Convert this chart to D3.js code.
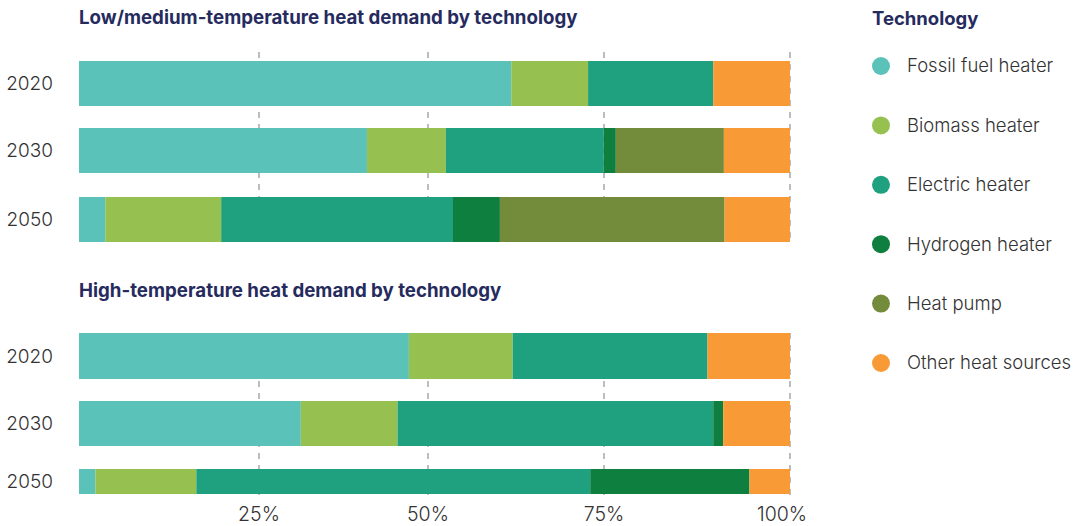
<!DOCTYPE html>
<html>
<head>
<meta charset="utf-8">
<script src="https://cdn.jsdelivr.net/npm/d3@7"></script>
<style>
  body { margin: 0; background: #fff; }
  svg { display: block; font-family: Inter, "Noto Sans", sans-serif; }
</style>
</head>
<body>
<div id="chart"></div>
<script>
// Data
const technologies = ["Fossil fuel heater", "Biomass heater", "Electric heater", "Hydrogen heater", "Heat pump", "Other heat sources"];
const colors = ["#5BC2BA", "#96C050", "#1FA07E", "#0F7F3F", "#738C3C", "#F89B37"];
const years = ["2020", "2030", "2050"];
const ticks = [25, 50, 75, 100];

// shares (%) in technology order, one array per year
const lowMedium = [
  [60.8, 10.8, 17.6, 0, 0, 10.8],
  [40.5, 11.1, 22.2, 1.7, 15.2, 9.3],
  [3.7, 16.3, 32.6, 6.6, 31.6, 9.2]
];
const highTemp = [
  [46.4, 14.6, 27.4, 0, 0, 11.6],
  [31.2, 13.6, 44.4, 1.4, 0, 9.4],
  [2.3, 14.2, 55.4, 22.4, 0, 5.7]
];

const W = 1075, H = 526;
const svg = d3.select("#chart").append("svg")
  .attr("width", W).attr("height", H);

// bars use a linear scale, the grid follows the reference's tick spacing
const x = d3.scaleLinear().domain([0, 100]).range([79, 790]);
const xGrid = d3.scaleLinear().domain([0, 25, 50, 75, 100]).range([79, 259, 428, 604, 790]);

function stackRows(rows) {
  return rows.map((vals, i) => {
    let acc = 0;
    return vals.map((v, k) => {
      const seg = { year: years[i], tech: k, x0: acc, x1: acc + v };
      acc += v;
      return seg;
    }).filter(s => s.x1 > s.x0);
  });
}

function drawPanel(title, rows, titleY, yPositions, heights, gridTop, gridBottom) {
  svg.append("text")
    .attr("x", 79).attr("y", titleY)
    .style("font-size", "18.7px").style("font-weight", "700")
    .style("fill", "#262B5E")
    .text(title);

  // dashed grid
  svg.append("g").selectAll("line")
    .data(ticks)
    .enter().append("line")
    .attr("x1", d => xGrid(d)).attr("x2", d => xGrid(d))
    .attr("y1", gridTop).attr("y2", gridBottom)
    .attr("stroke", "#bdbdbd").attr("stroke-width", 2)
    .attr("stroke-dasharray", "6,6");

  const stacked = stackRows(rows);
  stacked.forEach((segs, i) => {
    const g = svg.append("g");
    g.selectAll("rect")
      .data(segs)
      .enter().append("rect")
      .attr("x", d => x(d.x0))
      .attr("y", yPositions[i])
      .attr("width", d => x(d.x1) - x(d.x0))
      .attr("height", heights[i])
      .attr("fill", d => colors[d.tech]);

    svg.append("text")
      .attr("x", 53).attr("y", yPositions[i] + heights[i] / 2)
      .attr("dy", "0.35em")
      .attr("text-anchor", "end")
      .style("font-size", "19px").style("fill", "#333")
      .style("font-weight", "300")
      .text(years[i]);
  });
}

drawPanel("Low/medium-temperature heat demand by technology", lowMedium, 24,
  [61, 128, 197], [45, 45, 45], 52, 242);
drawPanel("High-temperature heat demand by technology", highTemp, 297,
  [333, 401, 469], [46, 45, 25], 333, 496);

// axis labels
svg.append("g").selectAll("text")
  .data(ticks)
  .enter().append("text")
  .attr("x", d => xGrid(d) + (d === 100 ? -8 : 0))
  .attr("y", 521)
  .attr("text-anchor", "middle")
  .style("font-size", "19.5px").style("fill", "#333").style("font-weight", "300")
  .text(d => d + "%");

// legend
const legendY = d3.scalePoint().domain(technologies).range([66, 363]);
svg.append("text")
  .attr("x", 872).attr("y", 25)
  .style("font-size", "18.5px").style("font-weight", "700").style("fill", "#262B5E")
  .text("Technology");
const leg = svg.append("g").selectAll("g")
  .data(technologies)
  .enter().append("g")
  .attr("transform", d => `translate(0,${legendY(d)})`);
leg.append("circle")
  .attr("cx", 881).attr("cy", 0).attr("r", 9)
  .attr("fill", (d, i) => colors[i]);
leg.append("text")
  .attr("x", 907).attr("y", 0).attr("dy", "0.35em")
  .style("font-size", "18.5px").style("fill", "#333").style("font-weight", "300")
  .text(d => d);
</script>
</body>
</html>
